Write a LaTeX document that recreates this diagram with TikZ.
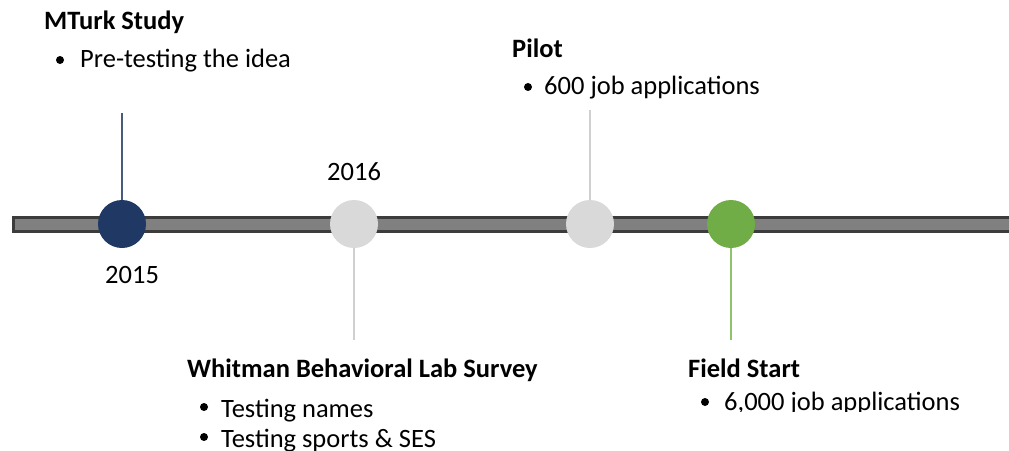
\documentclass[tikz,border=0pt]{standalone}
\usepackage{fontspec}
\setmainfont{Carlito}
\definecolor{navy}{HTML}{1F3864}
\definecolor{navyline}{HTML}{4A5A7A}
\definecolor{lightdot}{HTML}{D9D9D9}
\definecolor{lightline}{HTML}{D0D0D0}
\definecolor{leaf}{HTML}{70AD47}
\definecolor{leafline}{HTML}{8EC46A}
\definecolor{barfill}{HTML}{808080}
\definecolor{baredge}{HTML}{3C3C3C}
\begin{document}
\begin{tikzpicture}[x=1pt,y=-1pt,
  txt/.style={anchor=base west,inner sep=0pt,font=\fontsize{26.5}{30}\selectfont},
  head/.style={txt,font=\fontsize{26.5}{30}\selectfont\bfseries},
  dot/.style={circle,minimum size=48pt,inner sep=0pt},
  bullet/.style={circle,fill=black,minimum size=8pt,inner sep=0pt},
  stem/.style={line width=1.5pt}]
\useasboundingbox (0,0) rectangle (1009,450);
\begin{scope}
  \clip (0,0) rectangle (1009,450);
  % timeline bar
  \draw[draw=baredge,fill=barfill,line width=3pt] (13.5,217.5) rectangle (1020,231);
  % milestone dots
  \node[dot,fill=navy] (c1) at (122,224) {};
  \node[dot,fill=lightdot] (c2) at (354,224) {};
  \node[dot,fill=lightdot] (c3) at (590,224) {};
  \node[dot,fill=leaf] (c4) at (731,224) {};
  % stems
  \coordinate (e1) at (122,113);
  \coordinate (e2) at (354,340);
  \coordinate (e3) at (590,110);
  \coordinate (e4) at (731,340);
  \draw[stem,navyline] (c1.north) -- (e1);
  \draw[stem,lightline] (c2.south) -- (e2);
  \draw[stem,lightline] (c3.north) -- (e3);
  \draw[stem,leafline] (c4.south) -- (e4);
  % years
  \node[txt] (y15) at (105,283) {2015};
  \node[txt] (y16) at (327,180) {2016};
  % MTurk
  \node[head] (h1) at (44,29) {MTurk Study};
  \node[bullet] (b1) at (60,60) {};
  \node[txt] (t1) at (80,67) {Pre-testing the idea};
  % Pilot
  \node[head] (h3) at (512,57) {Pilot};
  \node[bullet] (b3) at (528,87) {};
  \node[txt] (t3) at (544,94) {600 job applications};
  % Whitman
  \node[head] (h2) at (187,377) {Whitman Behavioral Lab Survey};
  \node[bullet] (b2a) at (204,407) {};
  \node[txt] (t2a) at (221,417) {Testing names};
  \node[bullet] (b2b) at (204,437) {};
  \node[txt] (t2b) at (221,447) {Testing sports \& SES};
  % Field start
  \node[head] (h4) at (688,377) {Field Start};
  \node[bullet] (b4) at (705,402) {};
  \begin{scope}
    \clip (680,380) rectangle (1009,411);
    \node[txt] (t4) at (724,410) {6,000 job applications};
  \end{scope}
\end{scope}
\end{tikzpicture}
\end{document}
